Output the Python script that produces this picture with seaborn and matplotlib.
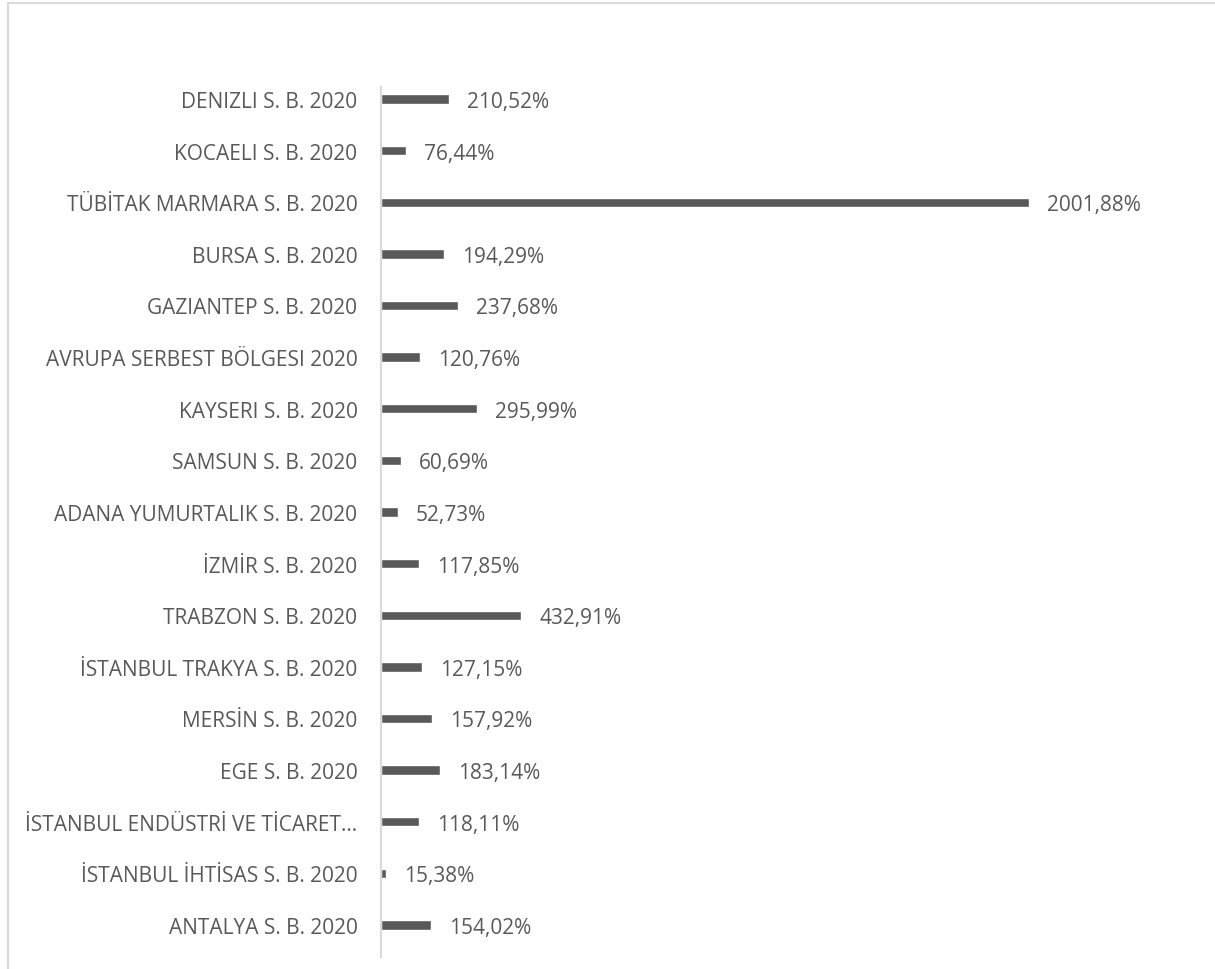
import matplotlib
matplotlib.use("Agg")
import matplotlib.pyplot as plt
import pandas as pd
import seaborn as sns
from matplotlib.patches import Rectangle

zones = [
    "DENIZLI S. B. 2020",
    "KOCAELI S. B. 2020",
    "TÜBİTAK MARMARA S. B. 2020",
    "BURSA S. B. 2020",
    "GAZIANTEP S. B. 2020",
    "AVRUPA SERBEST BÖLGESI 2020",
    "KAYSERI S. B. 2020",
    "SAMSUN S. B. 2020",
    "ADANA YUMURTALIK S. B. 2020",
    "İZMİR S. B. 2020",
    "TRABZON S. B. 2020",
    "İSTANBUL TRAKYA S. B. 2020",
    "MERSİN S. B. 2020",
    "EGE S. B. 2020",
    "İSTANBUL ENDÜSTRİ VE TİCARET…",
    "İSTANBUL İHTİSAS S. B. 2020",
    "ANTALYA S. B. 2020",
]
pct = [210.52, 76.44, 2001.88, 194.29, 237.68, 120.76, 295.99, 60.69, 52.73,
       117.85, 432.91, 127.15, 157.92, 183.14, 118.11, 15.38, 154.02]

df = pd.DataFrame({"zone": zones, "pct": pct})

sns.set_theme(style="white")
plt.rcParams["font.family"] = ["Open Sans", "DejaVu Sans"]
TXT = "#595959"
FS = 15

fig = plt.figure(figsize=(12.15, 9.7), dpi=100)
ax = fig.add_axes([381 / 1215, 1 - 958 / 970, 809 / 1215, 870 / 970])

sns.barplot(data=df, x="pct", y="zone", order=zones, orient="h",
            color="#595959", saturation=1, width=0.18, ax=ax)

for i, v in enumerate(pct):
    ax.annotate(f"{v:.2f}%".replace(".", ","), (v, i), xytext=(13, 0),
                textcoords="offset points", va="center_baseline", ha="left",
                fontsize=FS, color=TXT)

step = (926 - 100) / 16
ax.set_xlim(0, 2500)
ax.set_ylim(16 + 32 / step, -12 / step)
ax.set_xlabel(""); ax.set_ylabel("")
ax.set_xticks([])
ax.tick_params(axis="y", length=0, pad=17, labelsize=FS, labelcolor=TXT)
for lab in ax.get_yticklabels():
    lab.set_verticalalignment("center_baseline")
for s in ["top", "right", "bottom"]:
    ax.spines[s].set_visible(False)
ax.spines["left"].set_color("#d9d9d9")
ax.spines["left"].set_linewidth(1.5)

# chart frame (cropped at right/bottom in the original)
fig.patches.append(Rectangle((8 / 1215, -0.1), 1.2, 1.1 - 4 / 970,
                             transform=fig.transFigure, fill=False,
                             edgecolor="#d9d9d9", lw=1.5))

fig.savefig("out.png", dpi=100)
